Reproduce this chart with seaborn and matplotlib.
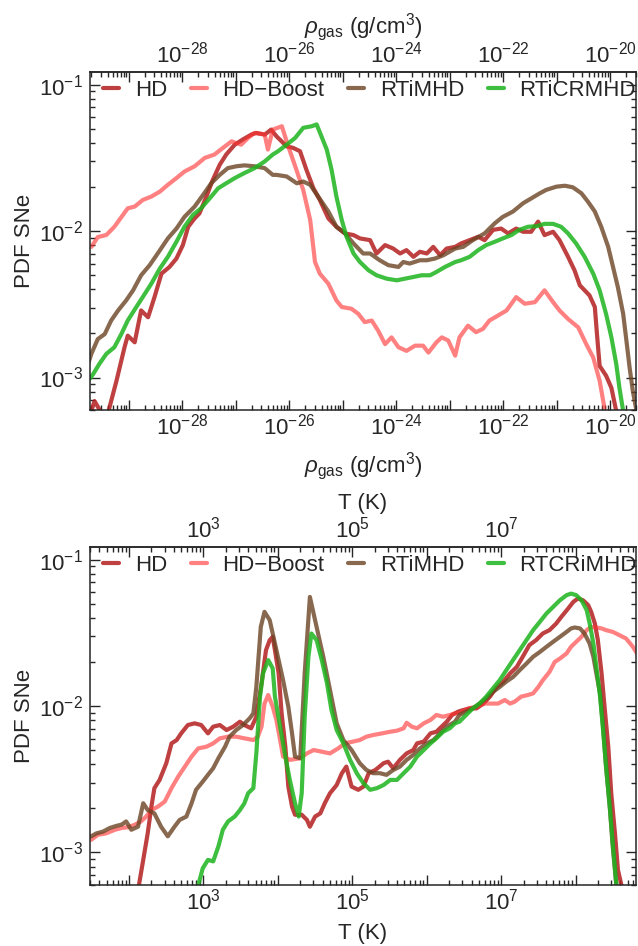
import numpy as np
import pandas as pd
import matplotlib
matplotlib.use("Agg")
import matplotlib.pyplot as plt
import matplotlib.ticker as mticker
import seaborn as sns

# ---------------- density panel (x stored as log10 rho in g/cm^3) ----------------
hd_rho_log = [-29.73, -29.64, -29.51, -29.39, -29.23, -29.08, -29.02, -28.89, -28.77, -28.64,
              -28.52, -28.39, -28.24, -28.11, -27.99, -27.89, -27.77, -27.68, -27.55, -27.43,
              -27.30, -27.18, -27.02, -26.87, -26.71, -26.62, -26.46, -26.34,
              -26.24, -26.05, -25.93, -25.80, -25.68, -25.55, -25.43, -25.27, -25.12, -24.96,
              -24.80, -24.68, -24.49, -24.37, -24.21, -24.06, -23.93, -23.81, -23.68, -23.56,
              -23.43, -23.31, -23.18, -23.06, -22.90,
              -22.79, -22.63, -22.47, -22.35, -22.19, -22.04, -21.91, -21.76, -21.63, -21.48,
              -21.35, -21.23, -21.07, -20.95, -20.79, -20.67, -20.57, -20.39, -20.29, -20.25,
              -20.20, -20.08, -19.98, -19.89]
hd_rho_pdf = [0.00055, 0.00069, 0.00057, 0.00057, 0.00095, 0.00161, 0.00193, 0.00174, 0.00287, 0.00258,
              0.00354, 0.00512, 0.00569, 0.00649, 0.00802, 0.0107, 0.0122, 0.0132, 0.0172, 0.0224,
              0.0284, 0.0333, 0.0389, 0.0422, 0.0456, 0.0468, 0.0456, 0.0493,
              0.0444, 0.0379, 0.0370, 0.0351, 0.0262, 0.0196, 0.0163, 0.0122, 0.0107, 0.00964,
              0.00939, 0.00891, 0.00867, 0.00703, 0.00802, 0.00760, 0.00703, 0.00741, 0.00667, 0.00722,
              0.00703, 0.00780, 0.00684, 0.00760, 0.00780,
              0.00823, 0.00867, 0.00914, 0.00867, 0.0102, 0.0104, 0.00964, 0.0104, 0.00989, 0.00989,
              0.0116, 0.00939, 0.00989, 0.00867, 0.00667, 0.00540, 0.00426, 0.00364, 0.00303, 0.00198,
              0.00120, 0.00103, 0.00085, 0.00059]

boost_rho_log = [-29.70, -29.58, -29.42, -29.27, -29.02, -28.89, -28.74, -28.58, -28.42, -28.27,
                 -28.11, -27.96, -27.77, -27.58, -27.40, -27.24, -27.08, -26.90, -26.77, -26.65,
                 -26.46, -26.40, -26.31, -26.14, -26.02, -25.89, -25.74, -25.61, -25.52, -25.43,
                 -25.27, -25.12, -25.02, -24.84, -24.71, -24.59, -24.46, -24.34, -24.21, -24.09,
                 -23.96, -23.81, -23.65, -23.50, -23.40, -23.25, -23.15, -23.03, -22.90, -22.82,
                 -22.66, -22.51, -22.38, -22.26, -22.10, -21.94, -21.76, -21.60, -21.41, -21.23,
                 -21.07, -20.95, -20.79, -20.60, -20.45, -20.32, -20.20, -20.11]
boost_rho_pdf = [0.0078, 0.0091, 0.0094, 0.0107, 0.0143, 0.0147, 0.0163, 0.0172, 0.0186, 0.0207,
                 0.0230, 0.0255, 0.0277, 0.0316, 0.0333, 0.0370, 0.0410, 0.0389, 0.0433, 0.0468,
                 0.0456, 0.0360, 0.0493, 0.0520, 0.0379, 0.0277, 0.0191, 0.0119, 0.00615, 0.00512,
                 0.00437, 0.00336, 0.00303, 0.00295, 0.00272, 0.00239, 0.00245, 0.00209, 0.00169, 0.00188,
                 0.00161, 0.00152, 0.00165, 0.00165, 0.00148, 0.00174, 0.00188, 0.00179, 0.00141, 0.00188,
                 0.00226, 0.00204, 0.00215, 0.00245, 0.00265, 0.00287, 0.00354, 0.00319, 0.00327, 0.00394,
                 0.00327, 0.00287, 0.00251, 0.00220, 0.00169, 0.00137, 0.00095, 0.00062]

mhd_rho_log = [-29.76, -29.70, -29.58, -29.45, -29.33, -29.20, -29.05, -28.92, -28.77, -28.61,
               -28.46, -28.27, -28.11, -27.96, -27.77, -27.61, -27.46, -27.30, -27.15, -26.99,
               -26.84, -26.65, -26.46, -26.31,
               -26.24, -26.05, -25.86, -25.74, -25.61, -25.46, -25.27, -25.12, -24.96, -24.80,
               -24.62, -24.49, -24.31, -24.15, -23.96, -23.87, -23.75, -23.56, -23.43, -23.28,
               -23.12, -22.90,
               -22.75, -22.57, -22.35, -22.16, -22.01, -21.82, -21.63, -21.48, -21.32, -21.20,
               -21.01, -20.85, -20.70, -20.54, -20.42, -20.29, -20.17, -20.04, -19.95, -19.86,
               -19.76, -19.70, -19.64, -19.58, -19.51]
mhd_rho_pdf = [0.00124, 0.00145, 0.00183, 0.00198, 0.00245, 0.00287, 0.00336, 0.00394, 0.00499, 0.00585,
               0.00703, 0.00891, 0.0104, 0.0125, 0.0147, 0.0177, 0.0212, 0.0242, 0.0269, 0.0277,
               0.0281, 0.0277, 0.0269, 0.0242,
               0.0242, 0.0236, 0.0212, 0.0218, 0.0207, 0.0172, 0.0136, 0.0107, 0.00964, 0.00823,
               0.00703, 0.00703, 0.00632, 0.00585, 0.00569, 0.00615, 0.00600, 0.00632, 0.00632, 0.00649,
               0.00684, 0.00760,
               0.00780, 0.00867, 0.00964, 0.0113, 0.0125, 0.0136, 0.0155, 0.0167, 0.0181, 0.0191,
               0.0201, 0.0204, 0.0199, 0.0181, 0.0159, 0.0136, 0.0107, 0.00780, 0.00569, 0.00415,
               0.00272, 0.00179, 0.00117, 0.00081, 0.00059]

cr_rho_log = [-29.76, -29.67, -29.55, -29.42, -29.27, -29.14, -29.02, -28.86, -28.74, -28.58,
              -28.42, -28.27, -28.11, -27.96, -27.80, -27.65, -27.49, -27.33, -27.18, -27.02,
              -26.84, -26.65, -26.46, -26.31,
              -26.21, -26.05, -25.89, -25.74, -25.58, -25.49, -25.40, -25.30, -25.21, -25.12,
              -25.02, -24.93, -24.80, -24.68, -24.52, -24.37, -24.18, -23.99, -23.84, -23.68,
              -23.53, -23.37, -23.25, -23.09, -22.90,
              -22.79, -22.63, -22.47, -22.32, -22.16, -22.01, -21.85, -21.70, -21.54, -21.38,
              -21.23, -21.07, -20.92, -20.79, -20.64, -20.48, -20.32, -20.20, -20.08, -19.98,
              -19.89, -19.83, -19.76]
cr_rho_pdf = [0.00095, 0.00105, 0.00124, 0.00145, 0.00161, 0.00198, 0.00245, 0.00303, 0.00354, 0.00437,
              0.00555, 0.00667, 0.00845, 0.0107, 0.0129, 0.0143, 0.0167, 0.0196, 0.0212, 0.0230,
              0.0249, 0.0269, 0.0299, 0.0333,
              0.0351, 0.0389, 0.0433, 0.0507, 0.0520, 0.0535, 0.0444, 0.0360, 0.0262, 0.0172,
              0.0119, 0.00914, 0.00703, 0.00615, 0.00540, 0.00499, 0.00473, 0.00461, 0.00473, 0.00486,
              0.00499, 0.00499, 0.00526, 0.00569, 0.00615,
              0.00632, 0.00667, 0.00741, 0.00802, 0.00845, 0.00891, 0.00939, 0.0102, 0.0107, 0.0108,
              0.0112, 0.0112, 0.0107, 0.00964, 0.00823, 0.00667, 0.00512, 0.00394, 0.00272, 0.00188,
              0.00124, 0.00085, 0.00059]

# ---------------- temperature panel (x stored as log10 T in K) ----------------
hd_T_log = [2.12, 2.19, 2.25, 2.30, 2.34, 2.41, 2.50, 2.57, 2.64, 2.70,
            2.79, 2.88, 2.97, 3.06, 3.13, 3.22, 3.31, 3.40, 3.49, 3.55,
            3.64, 3.71, 3.78, 3.84, 3.89, 3.93,
            3.96, 4.01, 4.05, 4.10, 4.14, 4.19, 4.23, 4.32, 4.39, 4.43,
            4.50, 4.57, 4.63, 4.70, 4.79, 4.86, 4.92, 4.99, 5.08, 5.15,
            5.22, 5.31, 5.42, 5.48, 5.55, 5.64, 5.73, 5.82, 5.87, 5.96,
            6.05, 6.13, 6.20, 6.27, 6.34,
            6.42, 6.49, 6.58, 6.67, 6.76, 6.85, 6.94, 7.03, 7.12, 7.21,
            7.29, 7.38, 7.47, 7.56, 7.65, 7.74, 7.81, 7.90, 7.97, 8.03,
            8.10, 8.17, 8.21, 8.26, 8.30, 8.35, 8.39, 8.44, 8.48, 8.53,
            8.57, 8.62]
hd_T_pdf = [0.00055, 0.00089, 0.00135, 0.00206, 0.00275, 0.00313, 0.00407, 0.00556, 0.00586, 0.00651,
            0.00742, 0.00762, 0.00742, 0.00651, 0.00723, 0.00742, 0.00686, 0.00723, 0.00782, 0.00742,
            0.00705, 0.00846, 0.0143, 0.0241, 0.0282, 0.0297,
            0.0241, 0.0167, 0.00891, 0.00528, 0.00282, 0.00206, 0.00181, 0.00181, 0.00167, 0.00150,
            0.00176, 0.00185, 0.00217, 0.00254, 0.00289, 0.00348, 0.00386, 0.00282, 0.00268, 0.00282,
            0.00348, 0.00366, 0.00407, 0.00417, 0.00376, 0.00429, 0.00475, 0.00501, 0.00556, 0.00572,
            0.00651, 0.00668, 0.00723, 0.00782, 0.00869,
            0.00915, 0.00939, 0.00964, 0.00964, 0.0104, 0.0116, 0.0135, 0.0147, 0.0167, 0.0185,
            0.0217, 0.0261, 0.0282, 0.0313, 0.0330, 0.0366, 0.0407, 0.0463, 0.0514, 0.0542,
            0.0528, 0.0489, 0.0440, 0.0366, 0.0282, 0.0167, 0.00990, 0.00528, 0.00254, 0.00135,
            0.00076, 0.00059]

boost_T_log = [1.49, 1.58, 1.69, 1.81, 1.90, 1.99, 2.08, 2.16, 2.23, 2.30,
               2.39, 2.48, 2.57, 2.66, 2.75, 2.84, 2.93, 3.04, 3.13, 3.22,
               3.33, 3.44, 3.55, 3.67, 3.73, 3.78, 3.82, 3.87, 3.93,
               3.98, 4.03, 4.07, 4.16, 4.30, 4.39, 4.48, 4.59, 4.70, 4.81,
               4.90, 5.01, 5.10, 5.19, 5.28, 5.40, 5.51, 5.60, 5.69, 5.73,
               5.80, 5.87, 5.96, 6.05, 6.13, 6.22, 6.31, 6.38,
               6.44, 6.56, 6.67, 6.78, 6.87, 6.96, 7.05, 7.12, 7.18, 7.27,
               7.36, 7.43, 7.50, 7.56, 7.65, 7.72, 7.79, 7.88, 7.94, 8.01,
               8.08, 8.15, 8.21, 8.28, 8.35, 8.41, 8.50, 8.59, 8.68, 8.77, 8.84]
boost_T_pdf = [0.00122, 0.00132, 0.00135, 0.00143, 0.00147, 0.00149, 0.00155, 0.00163, 0.00176, 0.00195,
               0.00206, 0.00223, 0.00275, 0.00330, 0.00386, 0.00452, 0.00514, 0.00528, 0.00556, 0.00602,
               0.00618, 0.00618, 0.00602, 0.00586, 0.00618, 0.00723, 0.0104, 0.0119, 0.00990,
               0.00803, 0.00586, 0.00452, 0.00429, 0.00440, 0.00475, 0.00501, 0.00488, 0.00475, 0.00514,
               0.00556, 0.00572, 0.00586, 0.00618, 0.00634, 0.00651, 0.00668, 0.00679, 0.00705, 0.00769,
               0.00723, 0.00705, 0.00762, 0.00803, 0.00869, 0.00846, 0.00869, 0.00891,
               0.00891, 0.00964, 0.00990, 0.0104, 0.0104, 0.0104, 0.0110, 0.0104, 0.0107, 0.0116,
               0.0119, 0.0122, 0.0135, 0.0150, 0.0171, 0.0200, 0.0211, 0.0229, 0.0254, 0.0275,
               0.0297, 0.0330, 0.0347, 0.0344, 0.0339, 0.0330, 0.0321, 0.0305, 0.0289, 0.0254, 0.0223]

mhd_T_log = [1.49, 1.56, 1.65, 1.74, 1.83, 1.90, 1.96, 2.03, 2.12, 2.19,
             2.25, 2.34, 2.43, 2.52, 2.61, 2.68, 2.77, 2.84, 2.90, 2.99,
             3.06, 3.13, 3.20, 3.29, 3.35, 3.44, 3.53, 3.62, 3.67, 3.71,
             3.77, 3.82, 3.89,
             3.98, 4.07, 4.14, 4.19, 4.23, 4.30, 4.36, 4.43, 4.52, 4.61,
             4.70, 4.79, 4.88, 4.99, 5.10, 5.19, 5.28, 5.37, 5.46, 5.55,
             5.64, 5.73, 5.82, 5.91, 6.00, 6.09, 6.18, 6.27, 6.38,
             6.44, 6.53, 6.62, 6.71, 6.80, 6.89, 6.98, 7.07, 7.16, 7.25,
             7.34, 7.43, 7.52, 7.61, 7.70, 7.79, 7.88, 7.94, 7.99, 8.06,
             8.12, 8.19, 8.24, 8.28, 8.33, 8.37, 8.41, 8.46, 8.50, 8.55]
mhd_T_pdf = [0.00129, 0.00135, 0.00139, 0.00147, 0.00152, 0.00155, 0.00163, 0.00143, 0.00150, 0.00217,
             0.00195, 0.00185, 0.00150, 0.00129, 0.00150, 0.00167, 0.00176, 0.00217, 0.00268, 0.00305,
             0.00339, 0.00376, 0.00440, 0.00528, 0.00618, 0.00686, 0.00742, 0.00824, 0.00891, 0.0135,
             0.0347, 0.0440, 0.0386,
             0.0241, 0.0150, 0.00990, 0.00651, 0.00452, 0.00440, 0.0167, 0.0556, 0.0347, 0.0217,
             0.0129, 0.00762, 0.00586, 0.00501, 0.00407, 0.00366, 0.00348, 0.00348, 0.00339, 0.00366,
             0.00386, 0.00429, 0.00464, 0.00514, 0.00556, 0.00586, 0.00651, 0.00723, 0.00782,
             0.00869, 0.00915, 0.00964, 0.0104, 0.0113, 0.0125, 0.0135, 0.0147, 0.0158, 0.0176,
             0.0195, 0.0217, 0.0234, 0.0254, 0.0275, 0.0297, 0.0321, 0.0339, 0.0344, 0.0339,
             0.0313, 0.0267, 0.0217, 0.0167, 0.0122, 0.00723, 0.00386, 0.00206, 0.00110, 0.00059]

cr_T_log = [2.93, 2.99, 3.06, 3.13, 3.20, 3.26, 3.33, 3.42, 3.49, 3.55,
            3.60, 3.67, 3.71, 3.76, 3.80, 3.87, 3.93,
            3.96, 4.03, 4.10, 4.16, 4.23, 4.28, 4.32, 4.36, 4.41, 4.45,
            4.52, 4.59, 4.66, 4.72, 4.79, 4.88, 4.97, 5.06, 5.15, 5.24,
            5.33, 5.42, 5.51, 5.60, 5.69, 5.78, 5.87, 5.96, 6.05, 6.13,
            6.22, 6.31, 6.38,
            6.44, 6.53, 6.62, 6.71, 6.80, 6.89, 6.98, 7.07, 7.16, 7.25,
            7.34, 7.43, 7.52, 7.61, 7.70, 7.79, 7.88, 7.94, 8.01, 8.08,
            8.15, 8.19, 8.24, 8.28, 8.33, 8.37, 8.41, 8.46, 8.50, 8.55]
cr_T_pdf = [0.00060, 0.00078, 0.00089, 0.00087, 0.00110, 0.00143, 0.00163, 0.00176, 0.00195, 0.00217,
            0.00254, 0.00275, 0.00475, 0.0116, 0.0167, 0.0206, 0.0181,
            0.0116, 0.00723, 0.00452, 0.00313, 0.00217, 0.00176, 0.00254, 0.00846, 0.0217, 0.0313,
            0.0282, 0.0206, 0.0143, 0.00939, 0.00686, 0.00556, 0.00429, 0.00348, 0.00297, 0.00268,
            0.00275, 0.00289, 0.00313, 0.00313, 0.00348, 0.00386, 0.00452, 0.00501, 0.00556, 0.00602,
            0.00668, 0.00705, 0.00762,
            0.00782, 0.00869, 0.00964, 0.0104, 0.0116, 0.0132, 0.0150, 0.0176, 0.0206, 0.0241,
            0.0282, 0.0330, 0.0376, 0.0429, 0.0476, 0.0528, 0.0572, 0.0586, 0.0572, 0.0528,
            0.0452, 0.0366, 0.0267, 0.0185, 0.0116, 0.00686, 0.00386, 0.00206, 0.00116, 0.00059]

labels_top = ["HD", "HD\u2212Boost", "RTiMHD", "RTiCRMHD"]
labels_bot = ["HD", "HD\u2212Boost", "RTiMHD", "RTCRiMHD"]
colors = ["#b41e1e", "#ff3333", "#6b4423", "#1db41d"]
alphas = [0.85, 0.62, 0.8, 0.85]

FS = 16

sns.set_style("ticks")
plt.rcParams["font.family"] = ["Liberation Sans", "DejaVu Sans"]
plt.rcParams["mathtext.fontset"] = "custom"
plt.rcParams["mathtext.rm"] = "Liberation Sans"
plt.rcParams["mathtext.it"] = "Liberation Sans:italic"
plt.rcParams["font.size"] = FS
plt.rcParams["axes.linewidth"] = 1.1


def curve(logx, pdf, name):
    return pd.DataFrame({"x": 10.0 ** np.asarray(logx), "pdf": pdf, "run": name})


def label_every_other(start, lo, hi):
    def fmt(v, pos):
        e = int(round(np.log10(v)))
        if v < lo or v > hi:
            return ""
        return rf"$10^{{{e}}}$" if (e - start) % 2 == 0 else ""
    return mticker.FuncFormatter(fmt)


def style(ax, xlim, start, xlabel, bottom_pad, top_pad):
    ax.set_xscale("log")
    ax.set_yscale("log")
    ax.set_xlim(*xlim)
    ax.set_ylim(6e-4, 0.122)
    sec = ax.secondary_xaxis("top")
    for axis in (ax.xaxis, sec.xaxis):
        axis.set_major_locator(mticker.LogLocator(base=10, numticks=30))
        axis.set_minor_locator(mticker.LogLocator(base=10, subs=np.arange(2, 10), numticks=300))
        axis.set_major_formatter(label_every_other(start, *xlim))
        axis.set_minor_formatter(mticker.NullFormatter())
    ax.tick_params(axis="x", which="both", top=False)
    ax.tick_params(axis="y", which="both", right=True)
    for a in (ax, sec):
        a.tick_params(which="both", direction="in", labelsize=FS, width=1.0)
        a.tick_params(which="major", length=7)
        a.tick_params(which="minor", length=3.5)
    ax.tick_params(axis="x", which="major", pad=2.5)
    sec.tick_params(axis="x", which="major", pad=3.5)
    ax.tick_params(axis="y", which="major", pad=5)
    ax.set_xlabel(xlabel, fontsize=FS, labelpad=bottom_pad)
    sec.set_xlabel(xlabel, fontsize=FS, labelpad=top_pad)
    ax.set_ylabel("PDF SNe", fontsize=FS, labelpad=3)
    ax.legend(loc="upper left", bbox_to_anchor=(0.0095, 1.0), ncol=4, frameon=False,
              fontsize=FS, handlelength=0.72, handletextpad=0.72, columnspacing=1.05,
              borderaxespad=0.0, borderpad=0.35)


fig = plt.figure(figsize=(6.38, 9.46), dpi=100)
ax_top = fig.add_axes([0.1411, 0.5666, 0.8558, 0.3573])
ax_bot = fig.add_axes([0.1411, 0.0645, 0.8558, 0.3573])

top_sets = [(hd_rho_log, hd_rho_pdf), (boost_rho_log, boost_rho_pdf),
            (mhd_rho_log, mhd_rho_pdf), (cr_rho_log, cr_rho_pdf)]
bot_sets = [(hd_T_log, hd_T_pdf), (boost_T_log, boost_T_pdf),
            (mhd_T_log, mhd_T_pdf), (cr_T_log, cr_T_pdf)]

for (lx, p), name, c, a in zip(top_sets, labels_top, colors, alphas):
    sns.lineplot(data=curve(lx, p, name), x="x", y="pdf", ax=ax_top, color=c, alpha=a,
                 lw=3, label=name, estimator=None, sort=False)
for (lx, p), name, c, a in zip(bot_sets, labels_bot, colors, alphas):
    sns.lineplot(data=curve(lx, p, name), x="x", y="pdf", ax=ax_bot, color=c, alpha=a,
                 lw=3, label=name, estimator=None, sort=False)

style(ax_top, (10 ** -29.725, 10 ** -19.52), -28, r"$\rho_{\rm gas}$ (g/cm$^3$)", 8, 6)
style(ax_bot, (10 ** 1.475, 10 ** 8.813), 3, "T (K)", 6, 5)

fig.savefig("out.png", dpi=100)
